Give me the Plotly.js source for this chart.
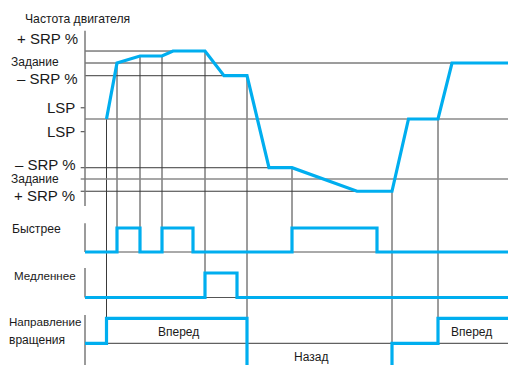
<!DOCTYPE html>
<html><head><meta charset="utf-8">
<script src="https://cdn.plot.ly/plotly-3.0.1.min.js"></script>
<style>html,body{margin:0;padding:0;background:#fff;overflow:hidden}</style>
</head><body><div id="chart" style="width:508px;height:365px"></div>
<script>
// ---- data (time in arbitrary units) ----
const speedTime  = [21.5, 32, 55, 77, 88, 120, 139, 162, 184, 207, 272, 307, 323.5, 353, 367, 423];
// motor frequency, % of the reference
const speedValue = [0, 100, 112.5, 112.5, 121.4, 121.4, 77.3, 77.3, -87, -87, -129, -129, 0, 0, 100, 100];
const fastTime  = [0, 32, 55, 77, 108, 207, 292, 423];
const fastValue = [0, 1, 0, 1, 0, 1, 0, 0];
const slowTime  = [0, 120, 152, 423];
const slowValue = [0, 1, 0, 0];
const dirTime   = [0, 21.5, 162, 307, 353, 423];
const dirValue  = [0, 1, -1, 0, 1, 1];

// reference levels of the frequency axis
const levelLabels = ['+ SRP %', 'Задание', '– SRP %', 'LSP', 'LSP', '– SRP %', 'Задание', '+ SRP %'];
const levelValues = [121.4, 100, 77.3, 20, -22.7, -87, -107, -129];
// horizontal guide lines: level and end time
const hLineLevel = [121.4, 100, 77.3, 0, -87, -107, -129];
const hLineEnd   = [120, 423, 162, 423, 207, 423, 307];
// vertical guide lines: time, and the signal they reach
const guideTime   = [21.5, 32, 55, 77, 120, 162, 207, 307, 353];
const guideTarget = ['dir', 'fast', 'fast', 'fast', 'slow', 'dir', 'fast', 'dir', 'dir'];
const guideTargetValue = [0, 0, 0, 0, 0, 1, 0, 0, 1];

// ---- layout ----
const W = 508, H = 365;
const BLUE = '#00aeef', DARK = '#3a3a3a', GREY = '#8a8a8a';
const axes = {
  speed: {name: 'y',  range: [-439.29, 212.5]},
  fast:  {name: 'y2', range: [-4.7083, 10.5]},
  slow:  {name: 'y3', range: [-2.755, 12.143]},
  dir:   {name: 'y4', range: [-0.868, 13.732]}
};
function paperY(ax, v) { const r = axes[ax].range; return (v - r[0]) / (r[1] - r[0]); }

const traces = [
  {x: speedTime, y: speedValue, yaxis: 'y',  mode: 'lines', line: {color: BLUE, width: 3.2}},
  {x: fastTime,  y: fastValue,  yaxis: 'y2', mode: 'lines', line: {color: BLUE, width: 3.2, shape: 'hv'}},
  {x: slowTime,  y: slowValue,  yaxis: 'y3', mode: 'lines', line: {color: BLUE, width: 3.2, shape: 'hv'}},
  {x: dirTime,   y: dirValue,   yaxis: 'y4', mode: 'lines', line: {color: BLUE, width: 3.2, shape: 'hv'}}
];

const shapes = [];
function hline(yref, y, x0, x1, color, width) {
  shapes.push({type: 'line', xref: 'x', yref: yref, x0: x0, x1: x1, y0: y, y1: y, layer: 'below',
               line: {color: color, width: width}});
}
// frequency panel horizontal lines
hLineLevel.forEach((lv, i) => {
  const grey = (lv === 0 || lv === -107);
  const start = lv < 0 ? -4.3 : 0;
  hline('y', lv, start, hLineEnd[i], grey ? GREY : DARK, grey ? 1.5 : 1);
});
// LSP ticks
[levelValues[3], levelValues[4]].forEach(v => hline('y', v, -4.3, 0, DARK, 1));
// baselines of the lower panels
hline('y2', 0, 0, 423, '#555', 1);
hline('y3', 0, 0, 423, '#555', 1);
hline('y4', 0, 0, 423, DARK, 1);
// left axis lines
const axisSpans = [['y', -155.4, 157.7], ['y2', 0, 1.2], ['y3', 0, 1.2], ['y4', -0.9, 1.13]];
axisSpans.forEach(a => shapes.push({type: 'line', xref: 'x', yref: a[0], x0: 0, x1: 0, y0: a[1], y1: a[2],
  layer: 'below', line: {color: '#7a7a7a', width: 1.5}}));
// vertical guides
guideTime.forEach((t, i) => {
  const k = speedTime.indexOf(t);
  const top = paperY('speed', speedValue[k]);
  const bot = paperY(guideTarget[i], guideTargetValue[i]);
  shapes.push({type: 'line', xref: 'x', yref: 'paper', x0: t, x1: t, y0: bot, y1: top, layer: 'below',
               line: {color: DARK, width: 1}});
});

// ---- text ----
const FONT = 'Liberation Sans, Arial, sans-serif';
const annotations = [];
function lab(text, px, py, xanchor, size) {
  annotations.push({text: text, xref: 'paper', yref: 'paper', x: px / W, y: 1 - py / H,
    xanchor: xanchor, yanchor: 'middle', showarrow: false,
    font: {family: FONT, size: size, color: '#1a1a1a'}});
}
lab('Частота двигателя', 23, 19.5, 'left', 12.2);
const labelPos = [[80, 38, 'right', 15], [9, 61.5, 'left', 12], [80, 78, 'right', 15],
                  [77, 107.7, 'right', 15], [77, 131.7, 'right', 15], [78, 164.5, 'right', 15],
                  [9, 179.5, 'left', 12], [77, 195.5, 'right', 15]];
levelLabels.forEach((t, i) => lab(t, labelPos[i][0], labelPos[i][1], labelPos[i][2], labelPos[i][3]));
lab('Быстрее', 9.5, 229.3, 'left', 12.2);
lab('Медленнее', 11.5, 275, 'left', 11.6);
lab('Направление', 7, 321.5, 'left', 11.6);
lab('вращения', 7, 339.5, 'left', 12);
lab('Вперед', 178, 331.5, 'center', 12);
lab('Назад', 311, 356.5, 'center', 12);
lab('Вперед', 471, 331.5, 'center', 12);

const layout = {
  width: W, height: H, margin: {l: 0, r: 0, t: 0, b: 0},
  paper_bgcolor: '#fff', plot_bgcolor: '#fff', showlegend: false, hovermode: false,
  xaxis: {range: [-85, 423], visible: false, fixedrange: true},
  yaxis:  {range: axes.speed.range, visible: false, fixedrange: true},
  yaxis2: {range: axes.fast.range,  visible: false, fixedrange: true, overlaying: 'y'},
  yaxis3: {range: axes.slow.range,  visible: false, fixedrange: true, overlaying: 'y'},
  yaxis4: {range: axes.dir.range,   visible: false, fixedrange: true, overlaying: 'y'},
  shapes: shapes, annotations: annotations
};
Plotly.newPlot('chart', traces, layout, {staticPlot: true, displayModeBar: false});
</script></body></html>
